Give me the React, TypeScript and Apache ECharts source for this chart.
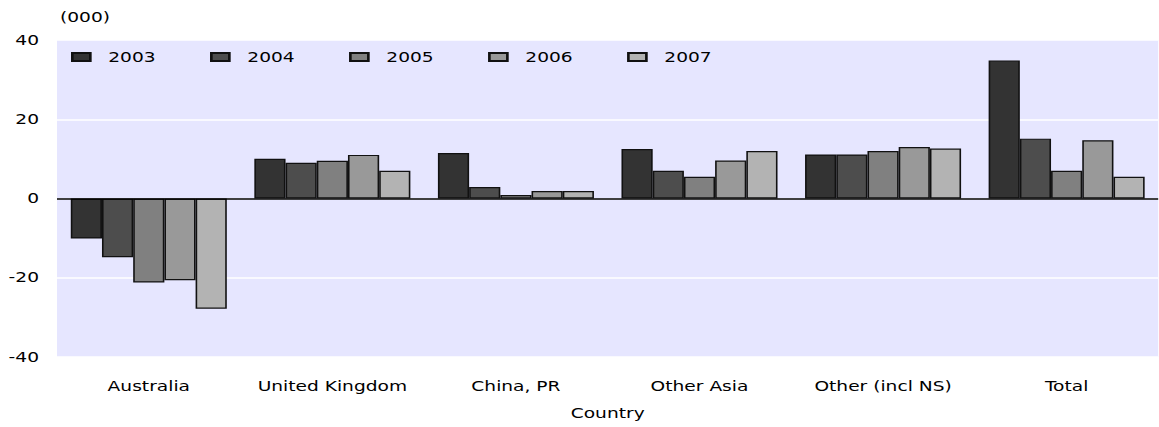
import React, { useEffect, useRef } from "react";
import * as echarts from "echarts";

const categories = ["Australia", "United Kingdom", "China, PR", "Other Asia", "Other (incl NS)", "Total"];
const years = ["2003", "2004", "2005", "2006", "2007"];
const v2003 = [-10.1, 10.0, 11.5, 12.5, 11.1, 34.8];
const v2004 = [-14.8, 9.0, 2.9, 7.0, 11.1, 15.1];
const v2005 = [-21.2, 9.5, 0.9, 5.5, 12.0, 7.0];
const v2006 = [-20.6, 11.0, 1.9, 9.6, 13.0, 14.7];
const v2007 = [-27.8, 7.0, 1.9, 12.0, 12.6, 5.5];
const seriesValues = [v2003, v2004, v2005, v2006, v2007];
const colors = ["#333333", "#4d4d4d", "#808080", "#999999", "#b3b3b3"];
const yTicks = { min: -40, max: 40, interval: 20 };

const FONT = "DejaVu Sans";
// the reference picture is stretched horizontally; reproduce with a uniform scaleX
const S = 1.33;
const W = 1159;
const H = 427;
const px = (v: number) => v / S;

export default function App() {
  const ref = useRef<HTMLDivElement>(null);
  useEffect(() => {
    document.body.style.margin = "0";
    const chart = echarts.init(ref.current!, undefined, { renderer: "svg" });
    const series: any[] = seriesValues.map((vals, i) => ({
      name: years[i],
      type: "bar",
      data: vals,
      barGap: "0%",
      barCategoryGap: "15%",
      itemStyle: { color: colors[i], borderColor: "#111", borderWidth: 1.2 },
      emphasis: { disabled: true },
    }));
    series[0].markLine = {
      silent: true,
      symbol: "none",
      label: { show: false },
      lineStyle: { color: "#000", width: 1.5, type: "solid" },
      data: [{ yAxis: 0 }],
      z: 10,
    };
    chart.setOption({
      animation: false,
      textStyle: { fontFamily: FONT },
      title: {
        text: "(000)",
        left: px(60),
        top: 10,
        padding: 0,
        textStyle: { fontFamily: FONT, fontSize: 14, fontWeight: "normal", color: "#000" },
      },
      legend: {
        left: px(71),
        top: 50,
        padding: 0,
        itemWidth: px(18),
        itemHeight: 8,
        itemGap: px(143.5) - (px(18) + 5 + 8.5 + 40),
        icon: "rect",
        data: years,
        textStyle: { fontFamily: FONT, fontSize: 14, color: "#000", width: 40, padding: [0, 0, 0, 8.5] },
      },
      grid: {
        left: px(57),
        right: 0,
        top: 40,
        bottom: 70,
        show: true,
        backgroundColor: "#e6e6ff",
        borderWidth: 0,
        outerBoundsMode: "none",
        containLabel: false,
      },
      xAxis: {
        type: "category",
        data: categories,
        name: "Country",
        nameLocation: "middle",
        nameGap: 49,
        nameTextStyle: { fontFamily: FONT, fontSize: 14, color: "#000" },
        axisLine: { show: false, onZero: false },
        axisTick: { show: false },
        axisLabel: { fontFamily: FONT, fontSize: 14, color: "#000", margin: 22, interval: 0 },
      },
      yAxis: {
        type: "value",
        min: yTicks.min,
        max: yTicks.max,
        interval: yTicks.interval,
        axisLine: { show: false },
        axisTick: { show: false },
        axisLabel: { fontFamily: FONT, fontSize: 14, color: "#000", margin: px(18) },
        splitLine: { lineStyle: { color: "#ffffff", width: 1.5 } },
      },
      series,
    });
    return () => chart.dispose();
  }, []);
  return (
    <div style={{ width: W, height: H, overflow: "hidden" }}>
      <div
        ref={ref}
        style={{ width: W / S, height: H, transform: `scaleX(${S})`, transformOrigin: "0 0" }}
      />
    </div>
  );
}
